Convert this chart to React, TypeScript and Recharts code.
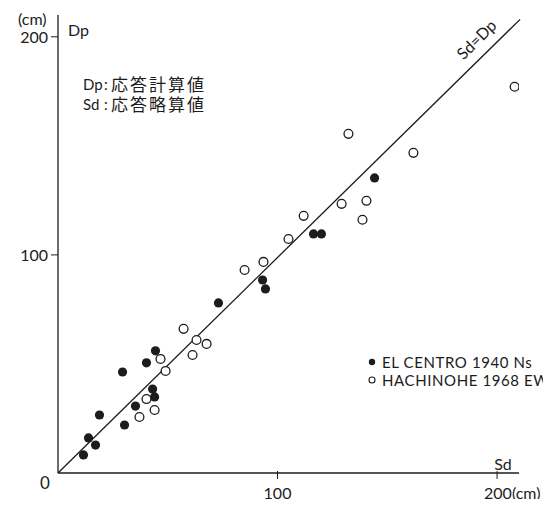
import React from 'react';
import {
  ScatterChart,
  Scatter,
  XAxis,
  YAxis,
  ReferenceLine,
  Customized,
} from 'recharts';

// 応答略算値 Sd (cm) / 応答計算値 Dp (cm)
const elCentroSd = [11.6, 13.9, 17.1, 18.9, 29.4, 30.3, 35.3, 40.3, 43.1, 44.0, 44.4, 73.1, 93.2, 94.5, 116.4, 120.0, 144.2];
const elCentroDp = [8.3, 16.1, 12.8, 26.6, 46.3, 22.0, 30.7, 50.5, 38.5, 34.9, 56.0, 78.0, 88.5, 84.4, 109.6, 109.6, 135.3];
const hachinoheSd = [37.1, 40.3, 44.0, 46.7, 49.0, 57.2, 61.3, 63.1, 67.7, 85.0, 93.6, 105.0, 111.9, 129.2, 138.7, 140.5, 132.3, 161.9, 208.0];
const hachinoheDp = [25.7, 33.9, 28.9, 52.3, 46.8, 66.1, 54.1, 61.0, 59.2, 93.1, 96.8, 107.3, 117.9, 123.4, 116.1, 124.8, 155.5, 146.8, 177.1];

const xTicks = [0, 100, 200];
const yTicks = [100, 200];
const seriesNames = ['EL CENTRO 1940 Ns', 'HACHINOHE 1968 EW'];

const elCentro = elCentroSd.map((x, i) => ({ x, y: elCentroDp[i] }));
const hachinohe = hachinoheSd.map((x, i) => ({ x, y: hachinoheDp[i] }));

const INK = '#1c1c1c';
const FONT = "Lato, 'Noto Sans CJK JP', sans-serif";

const FilledDot = (p: any) => <circle cx={p.cx} cy={p.cy} r={4.6} fill={INK} />;
const OpenDot = (p: any) => (
  <circle cx={p.cx} cy={p.cy} r={4.4} fill="#fff" stroke={INK} strokeWidth={1.3} />
);

const XTick = (p: any) => {
  const v = p.payload.value;
  if (v === 0) {
    return (
      <text x={p.x - 13} y={474} textAnchor="middle" dominantBaseline="central" fontSize={17} fill={INK} fontFamily={FONT}>
        0
      </text>
    );
  }
  return (
    <g>
      <line x1={p.x} x2={p.x} y1={463} y2={471} stroke={INK} strokeWidth={1} />
      {v === 200 ? (
        <text x={p.x - 13} y={484} dominantBaseline="central" fontSize={16} fill={INK} fontFamily={FONT}>
          200(cm)
        </text>
      ) : (
        <text x={p.x} y={484} textAnchor="middle" dominantBaseline="central" fontSize={16} fill={INK} fontFamily={FONT}>
          {v}
        </text>
      )}
    </g>
  );
};

const YTick = (p: any) => (
  <g>
    <line x1={43} x2={50} y1={p.y} y2={p.y} stroke={INK} strokeWidth={1} />
    <text x={40} y={p.y} textAnchor="end" dominantBaseline="central" fontSize={16} fill={INK} fontFamily={FONT}>
      {p.payload.value}
    </text>
  </g>
);

const Annotations = () => (
  <g fontFamily={FONT} fill={INK}>
    <text x={10} y={10} dominantBaseline="central" fontSize={16}>(cm)</text>
    <text x={60} y={21} dominantBaseline="central" fontSize={16}>Dp</text>
    <text x={75} y={76} dominantBaseline="central" fontSize={15}>Dp</text>
    <text x={96} y={76} dominantBaseline="central" fontSize={15}>:</text>
    <text x={103} y={76} dominantBaseline="central" fontSize={17} letterSpacing={2}>応答計算値</text>
    <text x={75} y={96} dominantBaseline="central" fontSize={15}>Sd</text>
    <text x={96} y={96} dominantBaseline="central" fontSize={15}>:</text>
    <text x={103} y={96} dominantBaseline="central" fontSize={17} letterSpacing={2}>応答略算値</text>
    <text x={495} y={455} textAnchor="middle" dominantBaseline="central" fontSize={16}>Sd</text>
    <text
      x={468}
      y={31}
      textAnchor="middle"
      dominantBaseline="central"
      fontSize={16}
      transform="rotate(-44.8 468 31)"
    >
      Sd=Dp
    </text>
    {/* legend */}
    <circle cx={364} cy={354} r={3.2} fill={INK} />
    <text x={374} y={354} dominantBaseline="central" fontSize={15} letterSpacing={0.6}>{seriesNames[0]}</text>
    <circle cx={364} cy={372} r={3} fill="#fff" stroke={INK} strokeWidth={1.1} />
    <text x={374} y={372} dominantBaseline="central" fontSize={15} letterSpacing={0.6}>{seriesNames[1]}</text>
  </g>
);

export default function App() {
  return (
    <div style={{ marginBottom: -8 }}>
      <ScatterChart width={543} height={499} margin={{ top: 7, right: 32, bottom: 0, left: 0 }}>
        <XAxis
          type="number"
          dataKey="x"
          domain={[0, 210]}
          ticks={xTicks}
          height={34}
          axisLine={{ stroke: INK, strokeWidth: 1.3 }}
          tickLine={false}
          tick={<XTick />}
          allowDataOverflow
        />
        <YAxis
          type="number"
          dataKey="y"
          domain={[0, 210]}
          ticks={yTicks}
          width={50}
          axisLine={{ stroke: INK, strokeWidth: 1.3 }}
          tickLine={false}
          tick={<YTick />}
          allowDataOverflow
        />
        <ReferenceLine
          segment={[{ x: 0, y: 0 }, { x: 210.5, y: 208 }]}
          stroke={INK}
          strokeWidth={1.3}
          ifOverflow="visible"
        />
        <Scatter name={seriesNames[0]} data={elCentro} shape={<FilledDot />} isAnimationActive={false} />
        <Scatter name={seriesNames[1]} data={hachinohe} shape={<OpenDot />} isAnimationActive={false} />
        <Customized component={<Annotations />} />
      </ScatterChart>
    </div>
  );
}
